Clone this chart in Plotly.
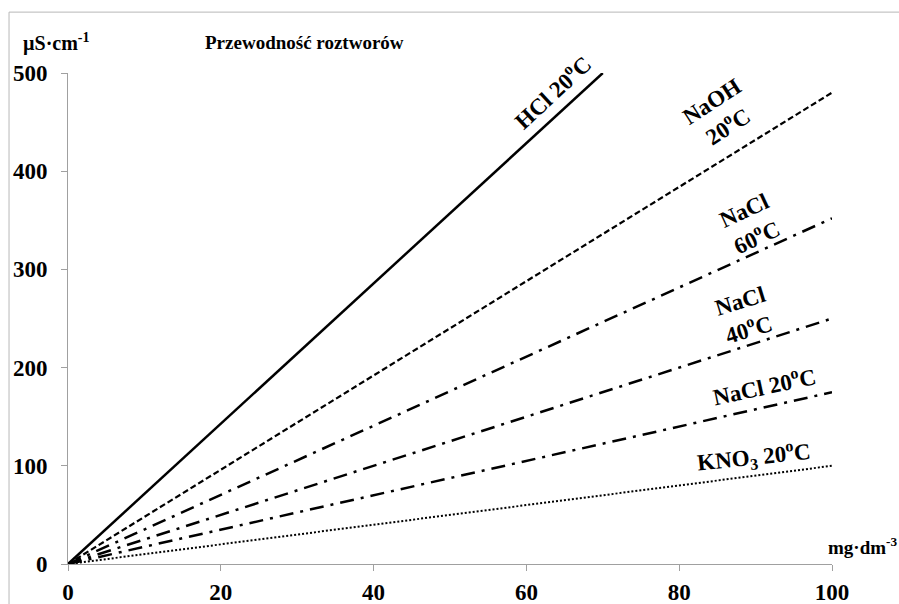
import plotly.graph_objects as go

# Data (x in mg·dm-3, y in µS·cm-1)
names = ["HCl 20°C", "NaOH 20°C", "NaCl 60°C", "NaCl 40°C", "NaCl 20°C", "KNO3 20°C"]
x_hcl = [0, 70]
y_hcl = [0, 500]
x_naoh = [0, 100]
y_naoh = [0, 480]
x_nacl60 = [0, 100]
y_nacl60 = [0, 352]
x_nacl40 = [0, 100]
y_nacl40 = [0, 250]
x_nacl20 = [0, 100]
y_nacl20 = [0, 175]
x_kno3 = [0, 100]
y_kno3 = [0, 100]
x_ticks = [0, 20, 40, 60, 80, 100]
y_ticks = [0, 100, 200, 300, 400, 500]

SERIF = "Liberation Serif, Times New Roman, serif"

series = [
    (x_hcl, y_hcl, dict(color="black", width=2.5, dash="solid")),
    (x_naoh, y_naoh, dict(color="black", width=2.2, dash="6px,3px")),
    (x_nacl60, y_nacl60, dict(color="black", width=2.5, dash="14px,7px,3px,7px")),
    (x_nacl40, y_nacl40, dict(color="black", width=2.5, dash="14px,7px,3px,7px")),
    (x_nacl20, y_nacl20, dict(color="black", width=2.5, dash="14px,7px,3px,7px")),
    (x_kno3, y_kno3, dict(color="black", width=2, dash="2px,2px")),
]

fig = go.Figure()
for (xs, ys, ln), nm in zip(series, names):
    fig.add_trace(go.Scatter(x=xs, y=ys, mode="lines", line=ln, name=nm,
                             showlegend=False, hoverinfo="skip", cliponaxis=False))

lab_font = dict(family=SERIF, size=23, color="black")
labels = [
    ("<b>HCl 20<sup>o</sup>C</b>", 63.4, 481, -43),
    ("<b>NaOH<br>20<sup>o</sup>C</b>", 85.3, 458, -33),
    ("<b>NaCl<br>60<sup>o</sup>C</b>", 89.3, 346, -25),
    ("<b>NaCl<br>40<sup>o</sup>C</b>", 88.6, 253, -17),
    ("<b>NaCl 20<sup>o</sup>C</b>", 91.2, 182, -12),
    ("<b>KNO<sub>3</sub> 20<sup>o</sup>C</b>", 89.8, 109, -6),
]
for txt, xx, yy, ang in labels:
    fig.add_annotation(text=txt, x=xx, y=yy, xref="x", yref="y", showarrow=False,
                       textangle=ang, font=lab_font, xanchor="center", yanchor="middle")

fig.add_annotation(text="<b>Przewodność roztworów</b>", x=0.31, y=1.063, xref="paper", yref="paper",
                   showarrow=False, font=dict(family=SERIF, size=19, color="black"),
                   xanchor="center", yanchor="middle")
fig.add_annotation(text="<b>µS·cm<sup>-1</sup></b>", x=-0.0144, y=1.063, xref="paper", yref="paper",
                   showarrow=False, font=dict(family=SERIF, size=20, color="black"),
                   xanchor="center", yanchor="middle")
fig.add_annotation(text="<b>mg·dm<sup>-3</sup></b>", x=0.992, y=0.008, xref="paper", yref="paper",
                   showarrow=False, font=dict(family=SERIF, size=19, color="black"),
                   xanchor="left", yanchor="bottom")

# outer frame (top and left edges visible; the rest lies outside the picture)
frame = dict(color="#b8b8b8", width=1)
fig.add_shape(type="line", xref="paper", yref="paper", x0=-0.0772, x1=1.088, y0=1.124, y1=1.124,
              line=frame, layer="below")
fig.add_shape(type="line", xref="paper", yref="paper", x0=-0.0772, x1=-0.0772, y0=-0.1, y1=1.124,
              line=frame, layer="below")

tick_font = dict(family=SERIF, size=23, color="black")
fig.update_xaxes(range=[0, 100], tickvals=x_ticks, ticktext=[f"<b>{v}</b>" for v in x_ticks],
                 showgrid=False, zeroline=False, showline=True, linecolor="#a0a0a0", linewidth=1,
                 ticks="outside", ticklen=6, tickcolor="#a0a0a0", tickfont=tick_font,
                 ticklabelstandoff=1, automargin=False, fixedrange=True)
fig.update_yaxes(range=[0, 500], tickvals=y_ticks, ticktext=[f"<b>{v}</b>" for v in y_ticks],
                 showgrid=False, zeroline=False, showline=True, linecolor="#a0a0a0", linewidth=1,
                 ticks="outside", ticklen=6, tickcolor="#a0a0a0", tickfont=tick_font,
                 ticklabelstandoff=9, automargin=False, fixedrange=True)

fig.update_layout(width=899, height=604, margin=dict(l=68, r=67, t=73, b=40, autoexpand=False),
                  paper_bgcolor="white", plot_bgcolor="white", showlegend=False)

fig.write_html("out.html", config={"displayModeBar": False},
               post_script="document.body.style.margin='0px';document.body.style.overflow='hidden';")
